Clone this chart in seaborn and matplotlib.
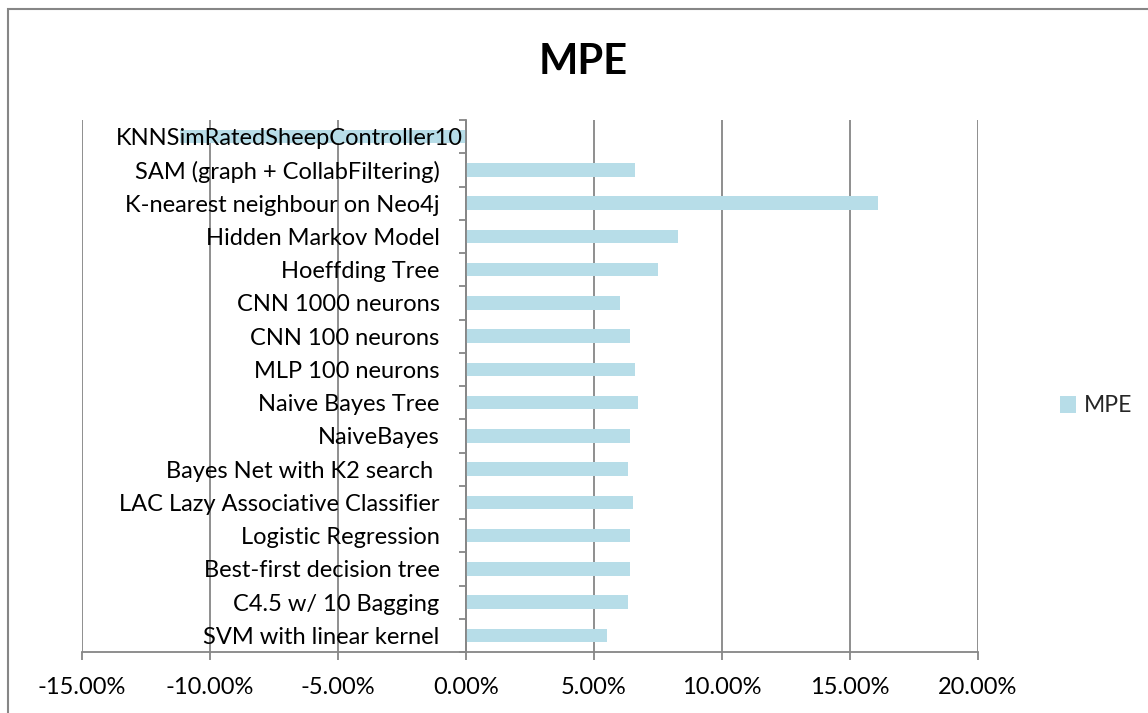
import matplotlib
matplotlib.use("Agg")
import matplotlib.pyplot as plt
import matplotlib.ticker as mticker
import matplotlib.transforms as mtransforms
from matplotlib.patches import Rectangle
import seaborn as sns
import pandas as pd

# Classifier names, top to bottom
models = [
    "KNNSimRatedSheepController10",
    "SAM (graph + CollabFiltering)",
    "K-nearest neighbour on Neo4j",
    "Hidden Markov Model",
    "Hoeffding Tree",
    "CNN 1000 neurons",
    "CNN 100 neurons",
    "MLP 100 neurons",
    "Naive Bayes Tree",
    "NaiveBayes",
    "Bayes Net with K2 search ",
    "LAC Lazy Associative Classifier",
    "Logistic Regression",
    "Best-first decision tree",
    "C4.5 w/ 10 Bagging",
    "SVM with linear kernel",
]

# Mean percentage error per classifier (fraction)
mpe = [
    -0.1118, 0.0661, 0.1610, 0.0830, 0.0751, 0.0600, 0.0640, 0.0661,
    0.0671, 0.0640, 0.0631, 0.0651, 0.0640, 0.0640, 0.0631, 0.0551,
]

series_name = "MPE"
x_ticks = [-0.15, -0.10, -0.05, 0.0, 0.05, 0.10, 0.15, 0.20]

df = pd.DataFrame({"model": models, "value": mpe})

sns.set_theme(style="white")
plt.rcParams["font.family"] = ["Lato", "DejaVu Sans"]
plt.rcParams["axes.unicode_minus"] = False

W, H = 1148, 713
fig = plt.figure(figsize=(W / 100, H / 100), dpi=100)
ax = fig.add_axes([82 / W, 1 - 652 / H, (978 - 82) / W, (652 - 120) / H])

bar_color = "#B7DDE8"
grid_color = "#868686"

sns.barplot(data=df, x="value", y="model", orient="h", color=bar_color,
            width=0.4, order=models, label=series_name, ax=ax,
            saturation=1, edgecolor="none", zorder=3)

ax.set_xlim(x_ticks[0], x_ticks[-1])
ax.set_ylim(len(models) - 0.5, -0.5)
ax.set_xticks(x_ticks)
ax.xaxis.set_major_formatter(mticker.PercentFormatter(1.0, decimals=2))
ax.set_xlabel("")
ax.set_ylabel("")

# vertical gridlines
ax.grid(axis="x", color=grid_color, linewidth=1.3)
ax.grid(axis="y", visible=False)
ax.set_axisbelow(True)
ax.yaxis.set_zorder(5)  # category labels sit on top of the bars

for s in ["top", "right"]:
    ax.spines[s].set_visible(False)
ax.spines["left"].set_position(("data", 0))
ax.spines["left"].set_color(grid_color)
ax.spines["left"].set_linewidth(1.3)
ax.spines["left"].set_zorder(4)
ax.spines["bottom"].set_color(grid_color)
ax.spines["bottom"].set_linewidth(1.3)

# category axis: ticks at category boundaries, labels without ticks
ax.set_yticks([i - 0.5 for i in range(len(models) + 1)], minor=True)
ax.tick_params(axis="y", which="minor", length=5, width=1.3, color=grid_color,
               direction="out", left=True)
ax.tick_params(axis="y", which="major", length=0, pad=19, labelsize=17,
               labelcolor="black", left=True)
ax.tick_params(axis="x", which="major", length=6, width=1.3, color=grid_color,
               direction="out", bottom=True, pad=12, labelsize=17,
               labelcolor="black")

# the longest label does not fit left of the axis and overflows to the right
long_lbl = ax.get_yticklabels()[0]
long_lbl.set_transform(long_lbl.get_transform() +
                       mtransforms.ScaledTranslation(23 / 100, 0, fig.dpi_scale_trans))

# legend
handles, labels = ax.get_legend_handles_labels()
ax.legend(handles, labels, loc="center left",
          bbox_to_anchor=(1060 / W, 1 - 406 / H),
          bbox_transform=fig.transFigure, frameon=False, fontsize=16.5,
          handlelength=0.7, handleheight=0.7, handletextpad=0.35,
          borderpad=0, borderaxespad=0)

fig.text(583 / W, 1 - 62 / H, "MPE", ha="center", va="center",
         fontsize=30, fontweight="bold", color="black")

# chart area outline
fig.add_artist(Rectangle((8 / W, -0.05), 1.1, 1 - 9 / H + 0.05,
                         transform=fig.transFigure, fill=False,
                         edgecolor=grid_color, linewidth=1.5))

fig.savefig("out.png", dpi=100)
